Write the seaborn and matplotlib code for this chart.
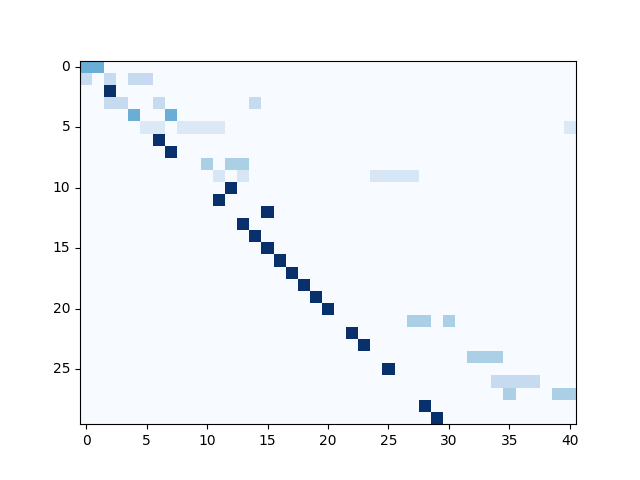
import matplotlib
matplotlib.use("Agg")
import matplotlib.pyplot as plt
import numpy as np
import seaborn as sns

n_rows = 30
n_cols = 41

# non-zero cells per row (column indices) and the weight shown in each of them
row_cols = [
    [0, 1],
    [0, 2, 4, 5],
    [2],
    [2, 3, 6, 14],
    [4, 7],
    [5, 6, 8, 9, 10, 11, 40],
    [6],
    [7],
    [10, 12, 13],
    [11, 13, 24, 25, 26, 27],
    [12],
    [11],
    [15],
    [13],
    [14],
    [15],
    [16],
    [17],
    [18],
    [19],
    [20],
    [27, 28, 30],
    [22],
    [23],
    [32, 33, 34],
    [25],
    [34, 35, 36, 37],
    [35, 39, 40],
    [28],
    [29],
]
row_vals = [0.5, 0.25, 1.0, 0.25, 0.5, 0.143, 1.0, 1.0, 0.333, 0.167,
            1.0, 1.0, 1.0, 1.0, 1.0, 1.0, 1.0, 1.0, 1.0, 1.0,
            1.0, 0.333, 1.0, 1.0, 0.333, 1.0, 0.25, 0.333, 1.0, 1.0]

matrix = np.zeros((n_rows, n_cols))
for r, (cols, v) in enumerate(zip(row_cols, row_vals)):
    matrix[r, cols] = v

fig, ax = plt.subplots(figsize=(6.4, 4.8), dpi=100)
sns.heatmap(matrix, cmap="Blues", vmin=0, vmax=1, cbar=False, ax=ax)
ax.set_aspect("equal")

xt = np.arange(0, n_cols, 5)
yt = np.arange(0, n_rows, 5)
ax.set_xticks(xt + 0.5)
ax.set_xticklabels([str(t) for t in xt], rotation=0)
ax.set_yticks(yt + 0.5)
ax.set_yticklabels([str(t) for t in yt], rotation=0)
ax.tick_params(length=3.5, width=0.8, labelsize=10)
for s in ax.spines.values():
    s.set_visible(True)
    s.set_linewidth(0.8)
    s.set_color("black")

fig.savefig("out.png", dpi=100)
